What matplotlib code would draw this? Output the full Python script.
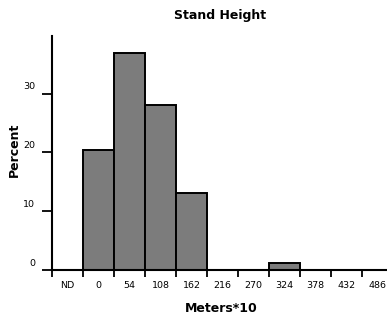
import matplotlib
matplotlib.use("Agg")
import matplotlib.pyplot as plt
from matplotlib.transforms import ScaledTranslation

categories = ["ND", "0", "54", "108", "162", "216", "270", "324", "378", "432", "486"]
percent = [0, 20.4, 36.9, 28.1, 13.1, 0, 0, 1.2, 0, 0, 0]
yticks = [0, 10, 20, 30]

W, H = 387, 318
fig = plt.figure(figsize=(W / 100, H / 100), dpi=100)
ax = fig.add_axes([52 / W, 48 / H, (W - 52) / W, 234 / H])

x = [i + 0.5 for i in range(len(categories))]
ax.bar(x, percent, width=1.0, color="#7c7c7c", edgecolor="black", linewidth=1.4, zorder=2)

ax.set_xlim(0, 335 / 31)
ax.set_ylim(0, 39.8)

for s in ["top", "right"]:
    ax.spines[s].set_visible(False)
for s in ["left", "bottom"]:
    ax.spines[s].set_linewidth(1.5)
    ax.spines[s].set_color("black")

ax.set_xticks(x)
ax.set_xticklabels(categories, fontsize=6.8, family="DejaVu Sans")
ax.set_xticks(list(range(len(categories))), minor=True)
ax.tick_params(axis="x", which="major", length=0, pad=8)
ax.tick_params(axis="x", which="minor", length=5, width=1.3, direction="out")

ax.set_yticks(yticks)
ax.set_yticklabels([str(v) for v in yticks], fontsize=6.8, family="DejaVu Sans")
ax.tick_params(axis="y", length=7, width=1.3, direction="out", pad=5)
for lab in ax.get_yticklabels():
    lab.set_transform(lab.get_transform() + ScaledTranslation(0, 0.08, fig.dpi_scale_trans))

fig.text(220 / W, 1 - 16 / H, "Stand Height", ha="center", va="center",
         fontsize=9, fontweight="bold", family="DejaVu Sans")
fig.text(221 / W, 1 - 309 / H, "Meters*10", ha="center", va="center",
         fontsize=9, fontweight="bold", family="DejaVu Sans")
fig.text(14 / W, 1 - 150 / H, "Percent", ha="center", va="center", rotation=90,
         fontsize=9, fontweight="bold", family="DejaVu Sans")

fig.savefig("out.png", dpi=100, facecolor="white")
